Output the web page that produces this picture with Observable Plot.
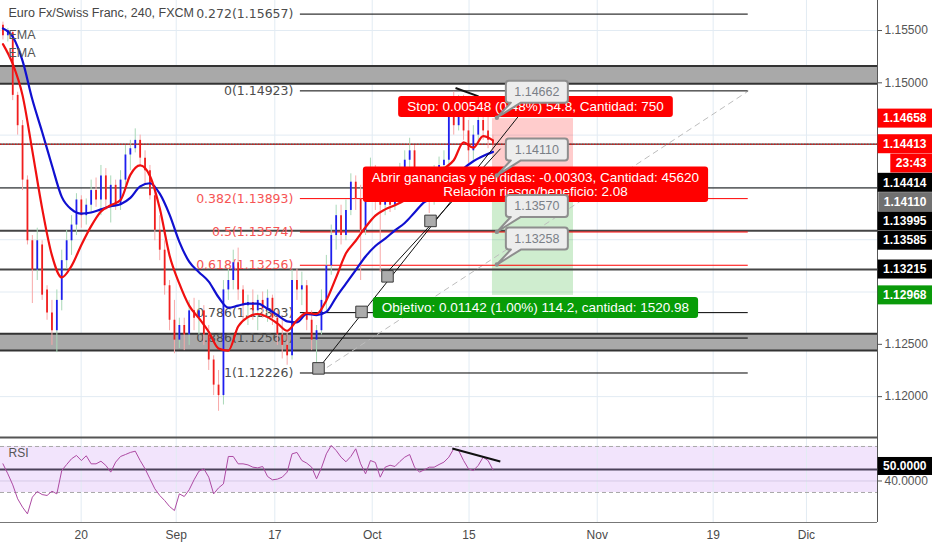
<!DOCTYPE html>
<html><head><meta charset="utf-8">
<script src="https://cdn.jsdelivr.net/npm/d3@7"></script>
<script src="https://cdn.jsdelivr.net/npm/@observablehq/plot@0.6"></script>
<style>
html,body{margin:0;padding:0;background:#fff;}
#chart{width:932px;height:550px;overflow:hidden;position:relative;}
#chart svg{display:block;}
</style></head><body><div id="chart"></div>
<script>
// ---------- DATA ----------
const titleText = "Euro Fx/Swiss Franc, 240, FXCM";
const indicatorNames = ["EMA", "EMA"];

// 12-hour sampled candles (trading-day time index = 0.25 + 0.5*i)
const open = [1.1555,1.1545,1.1548,1.1488,1.1459,1.1407,1.1349,1.1321,1.1345,1.1302,
1.1280,1.1263,1.1292,1.1330,1.1349,1.1364,1.1388,1.1373,1.1383,1.1397,
1.1388,1.1411,1.1383,1.1402,1.1383,1.1407,1.1431,1.1437,1.1445,1.1428,
1.1416,1.1392,1.1359,1.1340,1.1306,1.1273,1.1254,1.1268,1.1259,1.1282,
1.1275,1.1282,1.1259,1.1235,1.1211,1.1201,1.1302,1.1311,1.1328,1.1302,
1.1287,1.1290,1.1282,1.1292,1.1284,1.1294,1.1275,1.1259,1.1249,1.1239,
1.1311,1.1302,1.1306,1.1273,1.1254,1.1263,1.1292,1.1325,1.1354,1.1373,
1.1354,1.1378,1.1405,1.1389,1.1359,1.1407,1.1416,1.1388,1.1383,1.1392,
1.1383,1.1402,1.1414,1.1426,1.1435,1.1411,1.1397,1.1405,1.1388,1.1414,
1.1421,1.1426,1.1478,1.1459,1.1483,1.1454,1.1435,1.1450,1.1464,1.1454,
1.1445];
const high = [1.1558,1.1552,1.1550,1.1491,1.1464,1.1411,1.1354,1.1361,1.1349,1.1306,
1.1292,1.1302,1.1340,1.1359,1.1373,1.1394,1.1392,1.1389,1.1407,1.1409,
1.1421,1.1418,1.1411,1.1407,1.1416,1.1440,1.1445,1.1456,1.1450,1.1435,
1.1421,1.1402,1.1373,1.1349,1.1311,1.1292,1.1275,1.1275,1.1292,1.1294,
1.1292,1.1287,1.1268,1.1239,1.1225,1.1311,1.1322,1.1340,1.1342,1.1306,
1.1297,1.1302,1.1297,1.1300,1.1302,1.1297,1.1282,1.1273,1.1263,1.1321,
1.1322,1.1319,1.1311,1.1282,1.1268,1.1302,1.1335,1.1364,1.1383,1.1383,
1.1388,1.1413,1.1411,1.1402,1.1416,1.1428,1.1421,1.1402,1.1397,1.1402,
1.1409,1.1423,1.1435,1.1447,1.1440,1.1416,1.1414,1.1409,1.1421,1.1429,
1.1435,1.1485,1.1491,1.1488,1.1488,1.1464,1.1459,1.1472,1.1478,1.1472,
1.1450];
const low = [1.1541,1.1539,1.1483,1.1450,1.1397,1.1345,1.1289,1.1311,1.1292,1.1273,
1.1249,1.1242,1.1282,1.1322,1.1335,1.1354,1.1361,1.1364,1.1376,1.1381,
1.1373,1.1378,1.1366,1.1378,1.1378,1.1402,1.1416,1.1433,1.1421,1.1402,
1.1388,1.1349,1.1330,1.1297,1.1263,1.1241,1.1246,1.1244,1.1249,1.1263,
1.1259,1.1249,1.1225,1.1201,1.1186,1.1192,1.1292,1.1302,1.1292,1.1273,
1.1268,1.1273,1.1263,1.1275,1.1271,1.1268,1.1249,1.1236,1.1230,1.1235,
1.1292,1.1287,1.1263,1.1244,1.1223,1.1259,1.1282,1.1316,1.1340,1.1345,
1.1349,1.1373,1.1378,1.1311,1.1354,1.1392,1.1378,1.1319,1.1373,1.1376,
1.1378,1.1394,1.1407,1.1416,1.1402,1.1388,1.1388,1.1375,1.1383,1.1397,
1.1411,1.1419,1.1450,1.1454,1.1445,1.1423,1.1426,1.1440,1.1445,1.1437,
1.1435];
const close = [1.1545,1.1550,1.1488,1.1459,1.1407,1.1349,1.1321,1.1349,1.1297,1.1280,
1.1263,1.1292,1.1330,1.1349,1.1364,1.1388,1.1373,1.1383,1.1397,1.1388,
1.1411,1.1388,1.1402,1.1383,1.1407,1.1431,1.1437,1.1445,1.1428,1.1416,
1.1392,1.1359,1.1340,1.1306,1.1273,1.1254,1.1268,1.1259,1.1282,1.1275,
1.1282,1.1259,1.1235,1.1211,1.1201,1.1302,1.1311,1.1328,1.1302,1.1287,
1.1290,1.1282,1.1292,1.1284,1.1294,1.1275,1.1259,1.1249,1.1239,1.1311,
1.1302,1.1306,1.1273,1.1254,1.1263,1.1292,1.1325,1.1354,1.1373,1.1354,
1.1378,1.1405,1.1389,1.1359,1.1407,1.1416,1.1388,1.1383,1.1392,1.1383,
1.1402,1.1414,1.1426,1.1435,1.1411,1.1397,1.1405,1.1388,1.1414,1.1421,
1.1426,1.1478,1.1459,1.1483,1.1454,1.1435,1.1450,1.1464,1.1454,1.1445,
1.14413];

// EMA traces, one value per trading day (time = 0.25 + i)
const emaFast = [1.1537,1.1518,1.1488,1.1435,1.1380,1.1335,1.1314,1.1325,1.1345,1.1363,
1.1377,1.1383,1.1388,1.1412,1.1421,1.1411,1.1380,1.1335,1.1308,1.1287,
1.1275,1.1262,1.1246,1.1244,1.1267,1.1276,1.1279,1.1276,1.1270,1.1263,
1.1273,1.1280,1.1279,1.1292,1.1314,1.1337,1.1349,1.1362,1.1373,1.1379,
1.1383,1.1388,1.1395,1.1404,1.1411,1.1418,1.1426,1.1443,1.1438,1.1449,
1.1445];
const emaSlow = [1.1552,1.1544,1.1521,1.1484,1.1453,1.1421,1.1391,1.1379,1.1375,1.1376,
1.1379,1.1382,1.1384,1.1390,1.1401,1.1404,1.1394,1.1374,1.1348,1.1329,
1.1319,1.1310,1.1295,1.1285,1.1287,1.1289,1.1289,1.1284,1.1278,1.1272,
1.1271,1.1279,1.1278,1.1281,1.1295,1.1308,1.1321,1.1334,1.1344,1.1351,
1.1359,1.1366,1.1376,1.1386,1.1390,1.1399,1.1409,1.1418,1.1425,1.1430,
1.1434];

// RSI, one value per candle
const rsi = [54.9,46.2,36.6,24.5,17.2,11.4,25.9,30.8,28.2,27.4,
31.1,28.8,49.1,54.3,59.3,62.2,57.8,61.9,54.9,54.9,
57.2,53.5,47.7,56.4,61.3,63.0,64.8,65.9,57.8,50.6,
41.9,33.2,27.4,23.0,17.8,14.3,28.8,26.5,32.3,41.0,
48.5,50.6,43.3,28.8,34.0,37.5,61.3,61.3,54.9,54.9,
54.0,52.0,51.4,52.6,43.9,41.0,41.6,43.3,47.7,63.6,
64.8,57.8,55.5,52.0,41.9,51.4,63.6,70.9,66.5,60.7,
56.7,61.3,68.0,54.9,46.2,57.8,56.1,43.3,52.0,53.7,
52.6,56.9,60.7,63.0,52.0,47.7,49.7,52.0,52.0,54.3,
56.4,60.7,68.0,66.5,57.8,50.6,49.1,53.5,60.7,57.8,
49.7];
const rsiBands = [70, 30];
const rsiTicks = [40];

// Axes
const dateTicks = [8.23, 17.93, 27.99, 37.93, 47.81, 60.89, 72.72, 82.24];
const dateLabels = ["20", "Sep", "17", "Oct", "15", "Nov", "19", "Dic"];
const priceTicks = [1.12, 1.125, 1.13, 1.135, 1.14, 1.145, 1.15, 1.155];

// Drawings
const fibLevels = [0.272, 0, 0.382, 0.5, 0.618, 0.786, 0.886, 1];
const fibPrices = [1.15657, 1.14923, 1.13893, 1.13574, 1.13256, 1.12803, 1.12560, 1.12226];
const fibSpan = [30.6, 76.3];          // trading-day index where the level lines start / end
const fibAnchors = [[32.45, 1.12226], [76.33, 1.14923]];
const zoneLow = [1.1499, 1.1244];
const zoneHigh = [1.1516, 1.1260];
const hLineThin = [1.14414, 1.13995];
const hLineThick = [1.13585, 1.13215];
const trendFrom = [[32.45, 1.1227], [39.08, 1.1315]];
const trendTo = [[53.78, 1.1479], [51.02, 1.1437]];
const priceDiv = [[46.43, 1.1495], [48.78, 1.1487]];
const rsiDiv = [[46.1, 68.3], [51.0, 57.0]];
const markerDays = [32.45, 36.84, 39.49, 43.88];
const markerPrices = [1.1227, 1.1281, 1.1315, 1.1368];
const calloutDay = 50.7;
const calloutPrices = [1.14662, 1.14110, 1.13570, 1.13258];

// Long/short position tool
const posSpan = [50.2, 58.47];
const entryPrice = 1.14110, stopPrice = 1.14658, targetPrice = 1.12968;
const stopText = "Stop: 0.00548 (0.48%) 54.8, Cantidad: 750";
const openText = ["Abrir ganancias y pérdidas: -0.00303, Cantidad: 45620", "Relación riesgo/beneficio: 2.08"];
const targetText = "Objetivo: 0.01142 (1.00%) 114.2, cantidad: 1520.98";

// Price-scale badges (drawn in this order, stacked to avoid overlap)
const badgeText = ["1.14658", "1.14413", "23:43", "1.14414", "1.14110", "1.13995", "1.13585", "1.13215", "1.12968"];
const badgePrice = [1.14658, 1.14413, 1.14413, 1.14414, 1.14110, 1.13995, 1.13585, 1.13215, 1.12968];
const badgeColor = ["#ff0000", "#ff0000", "#ff0000", "#000000", "#707070", "#000000", "#000000", "#000000", "#0a9a0a"];

// ---------- LAYOUT / STYLE ----------
const FONT = "'Liberation Sans', Arial, sans-serif";
const FIBFONT = "'DejaVu Sans', Verdana, sans-serif";
const MAIN_H = 437;
const X_MAX = 89.49;
const Y_MIN = 1.116093, Y_MAX = 1.15787;
const RSI_MIN = 3.9, RSI_MAX = 77.8;
const GRID = "#e2ebf3";
const LABEL_FONT = 13.5;
const LINE_H = 14.5;

const candles = open.map((o, i) => ({t: 0.25 + 0.5 * i, o, h: high[i], l: low[i], c: close[i], up: close[i] >= o}));
const emaRows = emaFast.map((v, i) => ({t: 0.25 + i, fast: v, slow: emaSlow[i]}));
const rsiRows = rsi.map((v, i) => ({t: 0.25 + 0.5 * i, v}));
const fibRows = fibLevels.map((lv, i) => ({lv, p: fibPrices[i], red: lv >= 0.382 && lv <= 0.618}));
const lastPrice = close[close.length - 1];
const dateLabelMap = new Map(dateTicks.map((d, i) => [d, dateLabels[i]]));

// badge stacking (same linear mapping as the main plot's y scale)
const yLin = d3.scaleLinear([Y_MIN, Y_MAX], [MAIN_H, 0]);
const badgeY = [];
badgePrice.reduce((prev, p) => { const cy = Math.max(yLin(p), prev + 19.3); badgeY.push(cy); return cy; }, -Infinity);
// tick labels that are not covered by a badge
const labelTicks = priceTicks.filter(p => badgeY.every(by => Math.abs(by - yLin(p)) > 15));

const measureSvg = d3.select("body").append("svg").attr("width", 0).attr("height", 0)
  .style("position", "absolute").style("left", "-9999px");
function textWidth(str, size, weight = "normal", family = FONT) {
  const t = measureSvg.append("text").attr("font-size", size).attr("font-family", family)
    .attr("font-weight", weight).text(str);
  const w = t.node().getComputedTextLength();
  t.remove();
  return w;
}

function positionLabels(index, scales) {
  const x = scales.x, y = scales.y;
  const g = d3.create("svg:g").attr("font-family", FONT).attr("font-size", LABEL_FONT);
  const cx = (x(posSpan[0]) + x(posSpan[1])) / 2 + 3;
  const boxes = [
    {lines: [stopText], top: y(stopPrice) - 22, color: "#ff0000"},
    {lines: openText, top: y(entryPrice) - 9, color: "#ff0000"},
    {lines: [targetText], top: y(targetPrice) + 2, color: "#079c07"}
  ];
  for (const b of boxes) {
    const w = Math.max(...b.lines.map(s => textWidth(s, LABEL_FONT))) + 18;
    const h = 6.5 + LINE_H * b.lines.length;
    g.append("rect").attr("x", cx - w / 2).attr("y", b.top).attr("width", w).attr("height", h)
      .attr("rx", 3).attr("fill", b.color);
    b.lines.forEach((s, i) => g.append("text").attr("x", cx).attr("y", b.top + 10.5 + LINE_H * i)
      .attr("dy", "0.35em").attr("text-anchor", "middle").attr("fill", "#fff").text(s));
  }
  return g.node();
}

function callouts(index, scales) {
  const x = scales.x, y = scales.y;
  const g = d3.create("svg:g").attr("font-family", FONT);
  calloutPrices.forEach(p => {
    const ax = x(calloutDay), ay = y(p);
    const L = ax + 9, B = ay - 15, T = B - 22, W = 62;
    g.append("path")
      .attr("d", `M${L + 3},${T}H${L + W - 3}Q${L + W},${T} ${L + W},${T + 3}V${B - 3}Q${L + W},${B} ${L + W - 3},${B}H${L + 15}L${ax},${ay}L${L + 5},${B}H${L + 3}Q${L},${B} ${L},${B - 3}V${T + 3}Q${L},${T} ${L + 3},${T}Z`)
      .attr("fill", "#ededed").attr("stroke", "#8e8e8e").attr("stroke-width", 2).attr("stroke-linejoin", "round");
    g.append("circle").attr("cx", ax).attr("cy", ay).attr("r", 2.2).attr("fill", "#8e8e8e");
    g.append("text").attr("x", L + W / 2).attr("y", T + 11).attr("dy", "0.35em")
      .attr("text-anchor", "middle").attr("font-size", 12.5).attr("fill", "#7a7f87").text(p.toFixed(5));
  });
  return g.node();
}

function priceBadges(index, scales, values, dimensions) {
  const W = dimensions.width;
  const g = d3.create("svg:g").attr("font-family", FONT).attr("font-size", 12).attr("font-weight", "bold");
  badgeText.forEach((s, i) => {
    const cy = badgeY[i];
    const w = textWidth(s, 12, "bold") + 11;
    g.append("rect").attr("x", W - w).attr("y", cy - 9.5).attr("width", w).attr("height", 19).attr("fill", badgeColor[i]);
    g.append("text").attr("x", W - w / 2).attr("y", cy).attr("dy", "0.35em")
      .attr("text-anchor", "middle").attr("fill", "#fff").text(s);
  });
  return g.node();
}

function rsiBadge(index, scales, values, dimensions) {
  const y = scales.y;
  const W = dimensions.width;
  const g = d3.create("svg:g").attr("font-family", FONT).attr("font-size", 12).attr("font-weight", "bold");
  const s = (50).toFixed(4);
  const w = textWidth(s, 12, "bold") + 11;
  const cy = y(50) - 3;
  g.append("rect").attr("x", W - w).attr("y", cy - 9).attr("width", w).attr("height", 18).attr("fill", "#000");
  g.append("text").attr("x", W - w / 2).attr("y", cy).attr("dy", "0.35em")
    .attr("text-anchor", "middle").attr("fill", "#fff").text(s);
  return g.node();
}

const k = () => 0, kMax = () => X_MAX;

const main = Plot.plot({
  width: 932, height: MAIN_H,
  marginLeft: 0, marginRight: 55, marginTop: 0, marginBottom: 0,
  style: {fontFamily: FONT, fontSize: "12px", color: "#4a4a4a", background: "#fff", overflow: "hidden"},
  x: {domain: [0, X_MAX], axis: null},
  y: {domain: [Y_MIN, Y_MAX], axis: null},
  marks: [
    Plot.ruleX(dateTicks, {stroke: GRID}),
    Plot.ruleY(priceTicks, {stroke: GRID}),
    // position tool boxes
    Plot.rect([{a: entryPrice, b: stopPrice}], {x1: () => posSpan[0], x2: () => posSpan[1], y1: "a", y2: "b", fill: "#ff0000", fillOpacity: 0.2}),
    Plot.rect([{a: targetPrice, b: entryPrice}], {x1: () => posSpan[0], x2: () => posSpan[1], y1: "a", y2: "b", fill: "#00a000", fillOpacity: 0.19}),
    // grey zones
    Plot.rect(zoneLow.map((lo, i) => ({lo, hi: zoneHigh[i]})), {x1: k, x2: kMax, y1: "lo", y2: "hi", fill: "#a9a9a9"}),
    Plot.ruleY([...zoneLow, ...zoneHigh], {stroke: "#333", strokeWidth: 2}),
    // horizontal lines
    Plot.ruleY(hLineThin, {stroke: "#000", strokeWidth: 1}),
    Plot.ruleY(hLineThick, {stroke: "#454545", strokeWidth: 2}),
    // fibonacci
    Plot.link([0], {x1: () => fibAnchors[0][0], y1: () => fibAnchors[0][1], x2: () => fibAnchors[1][0], y2: () => fibAnchors[1][1], stroke: "#bdbdbd", strokeDasharray: "6,4"}),
    Plot.ruleY(fibRows.filter(d => !d.red), {y: "p", x1: () => fibSpan[0], x2: () => fibSpan[1], stroke: "#000"}),
    Plot.ruleY(fibRows.filter(d => d.red), {y: "p", x1: () => fibSpan[0], x2: () => fibSpan[1], stroke: "#ff0000"}),
    Plot.text(fibRows.filter(d => !d.red), {x: () => fibSpan[0], y: "p", text: d => `${d.lv}(${d.p.toFixed(5)})`, textAnchor: "end", dx: -7, fill: "#4d4d4d", fontFamily: FIBFONT, fontSize: 12.5}),
    Plot.text(fibRows.filter(d => d.red), {x: () => fibSpan[0], y: "p", text: d => `${d.lv}(${d.p.toFixed(5)})`, textAnchor: "end", dx: -7, fill: "#f65454", fontFamily: FIBFONT, fontSize: 12.5}),
    // candles
    Plot.ruleX(candles.filter(d => d.up), {x: "t", y1: "l", y2: "h", stroke: "#a9d8b8", strokeWidth: 1}),
    Plot.ruleX(candles.filter(d => !d.up), {x: "t", y1: "l", y2: "h", stroke: "#f8a8a8", strokeWidth: 1}),
    Plot.ruleX(candles.filter(d => d.up), {x: "t", y1: "o", y2: "c", stroke: "#1e1ef0", strokeWidth: 1.8}),
    Plot.ruleX(candles.filter(d => !d.up), {x: "t", y1: "o", y2: "c", stroke: "#f01e1e", strokeWidth: 1.8}),
    // EMAs
    Plot.line(emaRows, {x: "t", y: "slow", stroke: "#1010d0", strokeWidth: 2.2, curve: "monotone-x"}),
    Plot.line(emaRows, {x: "t", y: "fast", stroke: "#f01010", strokeWidth: 2.2, curve: "monotone-x"}),
    // current price dotted line
    Plot.ruleY([lastPrice], {stroke: "#ff0000", strokeDasharray: "1.5,1.5", strokeWidth: 1}),
    // trend lines & markers
    Plot.link(trendFrom.map((f, i) => ({f, t: trendTo[i]})), {x1: d => d.f[0], y1: d => d.f[1], x2: d => d.t[0], y2: d => d.t[1], stroke: "#111", strokeWidth: 1}),
    Plot.link([0], {x1: () => priceDiv[0][0], y1: () => priceDiv[0][1], x2: () => priceDiv[1][0], y2: () => priceDiv[1][1], stroke: "#111", strokeWidth: 2}),
    Plot.dot(markerDays.map((t, i) => ({t, p: markerPrices[i]})), {x: "t", y: "p", symbol: "square", r: 6.5, fill: "#acacac", stroke: "#3a3a3a", strokeWidth: 1}),
    positionLabels,
    callouts,
    // title
    Plot.text([titleText], {frameAnchor: "top-left", dx: 8, dy: 8, lineAnchor: "top", textAnchor: "start", fontSize: 12.5, fill: "#454545"}),
    Plot.text([indicatorNames[0]], {frameAnchor: "top-left", dx: 8, dy: 30, lineAnchor: "top", textAnchor: "start", fontSize: 12.5, fill: "#555"}),
    Plot.text([indicatorNames[1]], {frameAnchor: "top-left", dx: 8, dy: 48, lineAnchor: "top", textAnchor: "start", fontSize: 12.5, fill: "#555"}),
    // right axis
    Plot.ruleX([X_MAX], {stroke: "#555"}),
    Plot.axisY({anchor: "right", ticks: labelTicks, tickFormat: d3.format(".5f"), tickSize: 4, tickPadding: 3, fontSize: 12, fill: "#555", stroke: "#555", label: null}),
    priceBadges,
    Plot.ruleY([Y_MIN], {stroke: "#555", strokeWidth: 2})
  ]
});

const rsiPlot = Plot.plot({
  width: 932, height: 113,
  marginLeft: 0, marginRight: 55, marginTop: 0, marginBottom: 28,
  style: {fontFamily: FONT, fontSize: "12px", color: "#4a4a4a", background: "#fff", overflow: "hidden"},
  x: {domain: [0, X_MAX], axis: null},
  y: {domain: [RSI_MIN, RSI_MAX], axis: null},
  marks: [
    Plot.rect([{a: rsiBands[1], b: rsiBands[0]}], {x1: k, x2: kMax, y1: "a", y2: "b", fill: "#f2e4fc"}),
    Plot.ruleX(dateTicks, {stroke: GRID}),
    Plot.ruleY(rsiTicks, {stroke: "#d6cbe6"}),
    Plot.ruleY(rsiBands, {stroke: "#a8a8a8", strokeDasharray: "4,3"}),
    Plot.ruleY([50], {stroke: "#4b4159", strokeWidth: 2}),
    Plot.line(rsiRows, {x: "t", y: "v", stroke: "#ad4aa3", strokeWidth: 1}),
    Plot.link([0], {x1: () => rsiDiv[0][0], y1: () => rsiDiv[0][1], x2: () => rsiDiv[1][0], y2: () => rsiDiv[1][1], stroke: "#111", strokeWidth: 2}),
    Plot.text(["RSI"], {frameAnchor: "top-left", dx: 8, dy: 11, lineAnchor: "top", textAnchor: "start", fontSize: 12, fill: "#555"}),
    Plot.ruleY([RSI_MAX], {stroke: "#555", strokeWidth: 2}),
    Plot.ruleY([RSI_MIN], {stroke: "#777", strokeWidth: 1}),
    Plot.ruleX([X_MAX], {y1: () => RSI_MIN, y2: () => RSI_MAX, stroke: "#555"}),
    Plot.axisX({anchor: "bottom", ticks: dateTicks, tickFormat: d => dateLabelMap.get(d), tickSize: 0, tickPadding: 8, fontSize: 12, fill: "#4a4a4a", label: null}),
    Plot.axisY({anchor: "right", ticks: rsiTicks, tickFormat: d3.format(".4f"), tickSize: 4, tickPadding: 3, fontSize: 12, fill: "#555", stroke: "#555", label: null}),
    rsiBadge
  ]
});

document.getElementById("chart").append(main, rsiPlot);
</script></body></html>
